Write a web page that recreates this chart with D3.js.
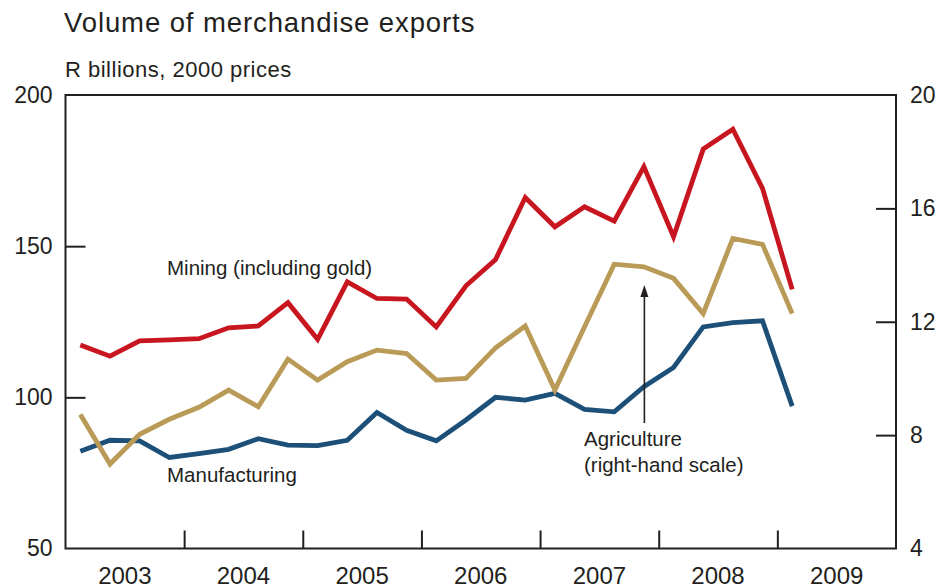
<!DOCTYPE html>
<html>
<head>
<meta charset="utf-8">
<script src="https://cdn.jsdelivr.net/npm/d3@7"></script>
<style>
  html, body { margin: 0; padding: 0; background: #fff; }
  svg text { font-family: "Liberation Sans", Arial, sans-serif; fill: #231f20; }
</style>
</head>
<body>
<svg id="chart" width="944" height="588"></svg>
<script>
// Quarterly periods, 2003 Q1 – 2009 Q1
const quarters = [
  "2003Q1","2003Q2","2003Q3","2003Q4",
  "2004Q1","2004Q2","2004Q3","2004Q4",
  "2005Q1","2005Q2","2005Q3","2005Q4",
  "2006Q1","2006Q2","2006Q3","2006Q4",
  "2007Q1","2007Q2","2007Q3","2007Q4",
  "2008Q1","2008Q2","2008Q3","2008Q4",
  "2009Q1"
];

// Mining (including gold), R billions at 2000 prices – left scale
const mining = [
  117.3, 113.6, 118.7, 119.0,
  119.4, 123.0, 123.6, 131.3,
  119.2, 138.2, 132.7, 132.5,
  123.3, 136.9, 145.6, 166.1,
  156.4, 163.0, 158.3, 176.3,
  153.1, 182.1, 188.7, 169.1,
  135.7
];

// Manufacturing, R billions at 2000 prices – left scale
const manufacturing = [
  82.2, 85.8, 85.6, 80.1,
  81.4, 82.8, 86.3, 84.2,
  84.0, 85.8, 95.0, 89.1,
  85.6, 92.5, 100.0, 99.1,
  101.3, 96.0, 95.2, 103.5,
  109.9, 123.3, 124.7, 125.3,
  97.1
];

// Agriculture, R billions at 2000 prices – right scale
const agriculture = [
  8.73, 6.98, 8.03, 8.56,
  8.98, 9.59, 9.00, 10.68,
  9.94, 10.59, 11.00, 10.88,
  9.94, 10.00, 11.08, 11.85,
  9.59, 11.82, 14.03, 13.94,
  13.53, 12.29, 14.94, 14.73,
  12.29
];

const leftTicks = [50, 100, 150, 200];
const rightTicks = [4, 8, 12, 16, 20];
const years = [2003, 2004, 2005, 2006, 2007, 2008, 2009];

const svg = d3.select("#chart");
const ink = "#231f20";

const plot = { left: 65.5, right: 896, top: 95, bottom: 548.5 };

// Quarter label -> fractional year at the middle of the quarter
const qTime = q => +q.slice(0, 4) + (+q.slice(5) - 0.5) / 4;

const x = d3.scaleLinear().domain([2003, 2010]).range([plot.left, plot.right]);
const yL = d3.scaleLinear().domain([50, 200]).range([plot.bottom, plot.top]);
const yR = d3.scaleLinear().domain([4, 20]).range([plot.bottom, plot.top]);

// Titles
svg.append("text").attr("x", 64).attr("y", 32)
  .attr("font-size", 27.5).attr("letter-spacing", 0.9)
  .text("Volume of merchandise exports");
svg.append("text").attr("x", 65).attr("y", 77)
  .attr("font-size", 22).attr("letter-spacing", 0.5)
  .text("R billions, 2000 prices");

// Series lines
const series = [
  { values: manufacturing, scale: yL, color: "#1c5079" },
  { values: agriculture, scale: yR, color: "#b99a56" },
  { values: mining, scale: yL, color: "#c7161f" }
];
series.forEach(s => {
  const line = d3.line()
    .x((d, i) => x(qTime(quarters[i])))
    .y(d => s.scale(d));
  svg.append("path")
    .datum(s.values)
    .attr("d", line)
    .attr("fill", "none")
    .attr("stroke", s.color)
    .attr("stroke-width", 4.8)
    .attr("stroke-linejoin", "miter")
    .attr("stroke-linecap", "butt");
});

// Frame
svg.append("rect")
  .attr("x", plot.left).attr("y", plot.top)
  .attr("width", plot.right - plot.left).attr("height", plot.bottom - plot.top)
  .attr("fill", "none").attr("stroke", ink).attr("stroke-width", 2);

// Left axis (ticks point inward)
const leftAxis = d3.axisLeft(yL).tickValues(leftTicks).tickSize(-20).tickPadding(13);
const gL = svg.append("g").attr("transform", `translate(${plot.left},0)`).call(leftAxis);

// Right axis
const rightAxis = d3.axisRight(yR).tickValues(rightTicks).tickSize(-20).tickPadding(14);
const gR = svg.append("g").attr("transform", `translate(${plot.right},0)`).call(rightAxis);

// Bottom axis: year boundaries as ticks, labels centred in each year
const boundaries = years.slice(1);
const bottomAxis = d3.axisBottom(x).tickValues(boundaries).tickSize(-18).tickFormat("");
const gB = svg.append("g").attr("transform", `translate(0,${plot.bottom})`).call(bottomAxis);

[gL, gR, gB].forEach(g => {
  g.select(".domain").remove();
  g.selectAll(".tick line").attr("stroke", ink).attr("stroke-width", 2);
  g.selectAll(".tick text").attr("font-size", 23)
    .attr("font-family", "Liberation Sans, Arial, sans-serif").attr("fill", ink);
});
gL.selectAll(".tick").filter(d => d === 200 || d === 50).select("line").remove();
gR.selectAll(".tick").filter(d => d === 20 || d === 4).select("line").remove();
gR.selectAll(".tick text").attr("x", 14);
gL.selectAll(".tick text").attr("x", -13);

svg.append("g").selectAll("text")
  .data(years).join("text")
  .attr("x", d => x(d + 0.5))
  .attr("y", 584)
  .attr("text-anchor", "middle")
  .attr("font-size", 24)
  .text(d => d);

// Series labels
svg.append("text").attr("x", 167).attr("y", 275).attr("font-size", 20.5)
  .text("Mining (including gold)");
svg.append("text").attr("x", 167).attr("y", 482).attr("font-size", 20.5)
  .text("Manufacturing");
svg.append("text").attr("x", 584).attr("y", 446).attr("font-size", 20.5)
  .text("Agriculture");
svg.append("text").attr("x", 584).attr("y", 472).attr("font-size", 20.5)
  .text("(right-hand scale)");

// Arrow pointing from the agriculture label to its line
const ax = x(qTime("2007Q4")) + 0.5;
svg.append("line")
  .attr("x1", ax).attr("x2", ax)
  .attr("y1", 423).attr("y2", 294)
  .attr("stroke", ink).attr("stroke-width", 1.6);
svg.append("path")
  .attr("d", `M${ax},285 L${ax - 4},297 L${ax + 4},297 Z`)
  .attr("fill", ink);
</script>
</body>
</html>
